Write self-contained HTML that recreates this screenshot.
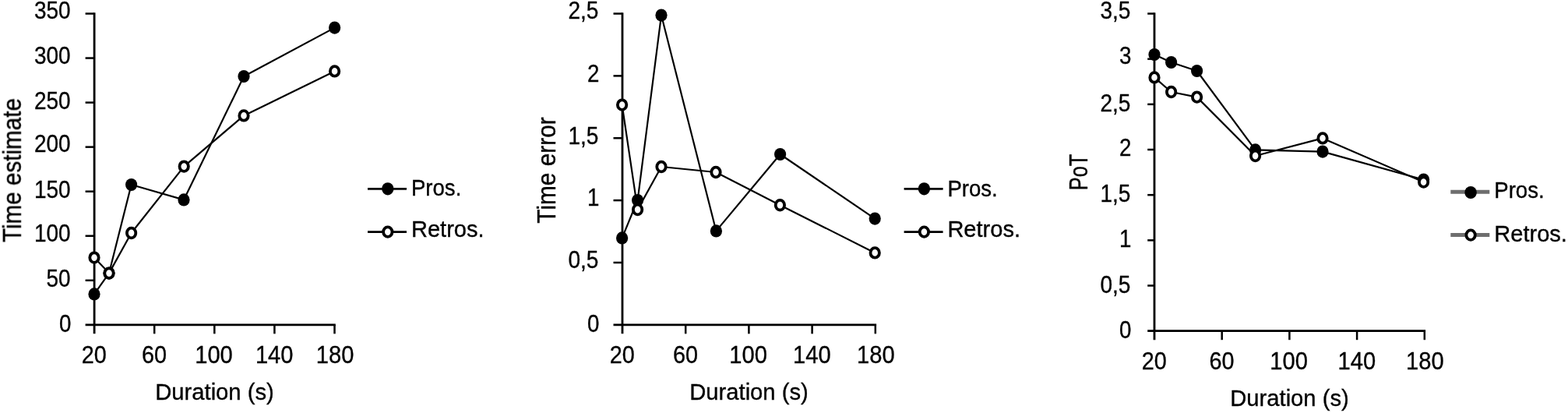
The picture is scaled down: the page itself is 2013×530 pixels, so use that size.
<!DOCTYPE html>
<html lang="en">
<head>
<meta charset="utf-8">
<title>Time estimate, time error and PoT by duration</title>
<style>
html,body{margin:0;padding:0;background:#fff;}
body{width:2013px;height:530px;overflow:hidden;}
svg{display:block;}
text{font-family:"Liberation Sans", sans-serif;font-size:29.2px;fill:#000;stroke:#000;stroke-width:0.35px;}
text.n{font-size:30.6px;}
</style>
</head>
<body>
<svg width="2013" height="530" viewBox="0 0 2013 530">
<defs><filter id="soft" x="0" y="0" width="2013" height="530" filterUnits="userSpaceOnUse"><feGaussianBlur stdDeviation="0.55"/></filter></defs>
<rect width="2013" height="530" fill="#fff"/>
<g filter="url(#soft)">
<g id="chart1">
<g stroke="#000" stroke-width="2.8" fill="none" stroke-linecap="butt">
<line x1="121.1" y1="16.20" x2="121.1" y2="428.35"/>
<line x1="109.60" y1="416.85" x2="430.80" y2="416.85"/>
</g>
<g stroke="#000" stroke-width="2.5" fill="none">
<line x1="109.60" y1="17.50" x2="121.1" y2="17.50"/>
<line x1="109.60" y1="74.55" x2="121.1" y2="74.55"/>
<line x1="109.60" y1="131.60" x2="121.1" y2="131.60"/>
<line x1="109.60" y1="188.65" x2="121.1" y2="188.65"/>
<line x1="109.60" y1="245.70" x2="121.1" y2="245.70"/>
<line x1="109.60" y1="302.75" x2="121.1" y2="302.75"/>
<line x1="109.60" y1="359.80" x2="121.1" y2="359.80"/>
<line x1="198.20" y1="416.85" x2="198.20" y2="428.35"/>
<line x1="275.30" y1="416.85" x2="275.30" y2="428.35"/>
<line x1="352.40" y1="416.85" x2="352.40" y2="428.35"/>
<line x1="429.50" y1="416.85" x2="429.50" y2="428.35"/>
</g>
<text class="n" x="90.6" y="23.70" text-anchor="end" textLength="46.6" lengthAdjust="spacingAndGlyphs">350</text>
<text class="n" x="90.6" y="82.00" text-anchor="end" textLength="46.6" lengthAdjust="spacingAndGlyphs">300</text>
<text class="n" x="90.6" y="140.00" text-anchor="end" textLength="46.6" lengthAdjust="spacingAndGlyphs">250</text>
<text class="n" x="90.6" y="195.00" text-anchor="end" textLength="46.6" lengthAdjust="spacingAndGlyphs">200</text>
<text class="n" x="90.6" y="254.00" text-anchor="end" textLength="46.6" lengthAdjust="spacingAndGlyphs">150</text>
<text class="n" x="90.6" y="310.00" text-anchor="end" textLength="46.6" lengthAdjust="spacingAndGlyphs">100</text>
<text class="n" x="90.6" y="368.00" text-anchor="end" textLength="31" lengthAdjust="spacingAndGlyphs">50</text>
<text class="n" x="91.5" y="426.00" text-anchor="end" textLength="15.4" lengthAdjust="spacingAndGlyphs">0</text>
<text class="n" x="120.80" y="466" text-anchor="middle" textLength="32" lengthAdjust="spacingAndGlyphs">20</text>
<text class="n" x="197.90" y="466" text-anchor="middle" textLength="32" lengthAdjust="spacingAndGlyphs">60</text>
<text class="n" x="274.50" y="466" text-anchor="middle" textLength="48.6" lengthAdjust="spacingAndGlyphs">100</text>
<text class="n" x="352.20" y="466" text-anchor="middle" textLength="48.6" lengthAdjust="spacingAndGlyphs">140</text>
<text class="n" x="430.10" y="466" text-anchor="middle" textLength="48.6" lengthAdjust="spacingAndGlyphs">180</text>
<text x="275.5" y="513" text-anchor="middle" textLength="152.5" lengthAdjust="spacingAndGlyphs">Duration (s)</text>
<text transform="translate(26.5 218.5) rotate(-90) scale(1 1.13)" text-anchor="middle" textLength="185" lengthAdjust="spacingAndGlyphs" stroke-width="0.6">Time estimate</text>
<polyline points="121.0,377.4 140.0,350.6 168.6,237.0 236.0,256.4 313.0,98.0 429.6,35.6" fill="none" stroke="#000" stroke-width="2.2" stroke-linejoin="round"/>
<ellipse cx="121.0" cy="377.4" rx="7.6" ry="8.1" fill="#000"/>
<ellipse cx="140.0" cy="350.6" rx="7.6" ry="8.1" fill="#000"/>
<ellipse cx="168.6" cy="237.0" rx="7.6" ry="8.1" fill="#000"/>
<ellipse cx="236.0" cy="256.4" rx="7.6" ry="8.1" fill="#000"/>
<ellipse cx="313.0" cy="98.0" rx="7.6" ry="8.1" fill="#000"/>
<ellipse cx="429.6" cy="35.6" rx="7.6" ry="8.1" fill="#000"/>
<polyline points="121.0,330.6 140.0,350.6 168.6,299.0 236.2,213.6 313.0,148.4 429.6,91.4" fill="none" stroke="#000" stroke-width="2.2" stroke-linejoin="round"/>
<ellipse cx="121.0" cy="330.6" rx="5.7" ry="6.3" fill="#fff" stroke="#000" stroke-width="3.8"/>
<ellipse cx="140.0" cy="350.6" rx="5.7" ry="6.3" fill="#fff" stroke="#000" stroke-width="3.8"/>
<ellipse cx="168.6" cy="299.0" rx="5.7" ry="6.3" fill="#fff" stroke="#000" stroke-width="3.8"/>
<ellipse cx="236.2" cy="213.6" rx="5.7" ry="6.3" fill="#fff" stroke="#000" stroke-width="3.8"/>
<ellipse cx="313.0" cy="148.4" rx="5.7" ry="6.3" fill="#fff" stroke="#000" stroke-width="3.8"/>
<ellipse cx="429.6" cy="91.4" rx="5.7" ry="6.3" fill="#fff" stroke="#000" stroke-width="3.8"/>
<line x1="472" y1="242.3" x2="522.0" y2="242.3" stroke="#000" stroke-width="2.7"/>
<ellipse cx="497.8" cy="242.3" rx="7.7" ry="8.1" fill="#000"/>
<text x="528" y="251.4" text-anchor="start" textLength="64.3" lengthAdjust="spacingAndGlyphs">Pros.</text>
<line x1="472" y1="297.6" x2="522.0" y2="297.6" stroke="#000" stroke-width="2.7"/>
<ellipse cx="497.8" cy="297.6" rx="5.7" ry="6.2" fill="#fff" stroke="#000" stroke-width="3.8"/>
<text x="528" y="304.3" text-anchor="start" textLength="93.6" lengthAdjust="spacingAndGlyphs">Retros.</text>
</g>
<g id="chart2">
<g stroke="#000" stroke-width="2.8" fill="none" stroke-linecap="butt">
<line x1="799" y1="16.20" x2="799" y2="428.35"/>
<line x1="787.50" y1="416.85" x2="1125.10" y2="416.85"/>
</g>
<g stroke="#000" stroke-width="2.5" fill="none">
<line x1="787.50" y1="17.50" x2="799" y2="17.50"/>
<line x1="787.50" y1="97.37" x2="799" y2="97.37"/>
<line x1="787.50" y1="177.24" x2="799" y2="177.24"/>
<line x1="787.50" y1="257.11" x2="799" y2="257.11"/>
<line x1="787.50" y1="336.98" x2="799" y2="336.98"/>
<line x1="880.20" y1="416.85" x2="880.20" y2="428.35"/>
<line x1="961.40" y1="416.85" x2="961.40" y2="428.35"/>
<line x1="1042.60" y1="416.85" x2="1042.60" y2="428.35"/>
<line x1="1123.80" y1="416.85" x2="1123.80" y2="428.35"/>
</g>
<text class="n" x="768.4" y="23.60" text-anchor="end" textLength="39" lengthAdjust="spacingAndGlyphs">2,5</text>
<text class="n" x="769.3" y="104.50" text-anchor="end" textLength="15.4" lengthAdjust="spacingAndGlyphs">2</text>
<text class="n" x="768.4" y="185.00" text-anchor="end" textLength="39" lengthAdjust="spacingAndGlyphs">1,5</text>
<text class="n" x="769.3" y="264.40" text-anchor="end" textLength="15.4" lengthAdjust="spacingAndGlyphs">1</text>
<text class="n" x="768.4" y="344.00" text-anchor="end" textLength="39" lengthAdjust="spacingAndGlyphs">0,5</text>
<text class="n" x="769.3" y="426.00" text-anchor="end" textLength="15.4" lengthAdjust="spacingAndGlyphs">0</text>
<text class="n" x="798.70" y="466" text-anchor="middle" textLength="32" lengthAdjust="spacingAndGlyphs">20</text>
<text class="n" x="879.90" y="466" text-anchor="middle" textLength="32" lengthAdjust="spacingAndGlyphs">60</text>
<text class="n" x="960.60" y="466" text-anchor="middle" textLength="48.6" lengthAdjust="spacingAndGlyphs">100</text>
<text class="n" x="1042.40" y="466" text-anchor="middle" textLength="48.6" lengthAdjust="spacingAndGlyphs">140</text>
<text class="n" x="1124.40" y="466" text-anchor="middle" textLength="48.6" lengthAdjust="spacingAndGlyphs">180</text>
<text x="961.5" y="513" text-anchor="middle" textLength="152.5" lengthAdjust="spacingAndGlyphs">Duration (s)</text>
<text transform="translate(712.6 218.5) rotate(-90) scale(1 1.13)" text-anchor="middle" textLength="136.5" lengthAdjust="spacingAndGlyphs" stroke-width="0.6">Time error</text>
<polyline points="798.6,305.4 818.6,257.0 849.0,19.6 919.4,296.4 1001.6,198.0 1123.2,280.6" fill="none" stroke="#000" stroke-width="2.2" stroke-linejoin="round"/>
<ellipse cx="798.6" cy="305.4" rx="7.6" ry="8.1" fill="#000"/>
<ellipse cx="818.6" cy="257.0" rx="7.6" ry="8.1" fill="#000"/>
<ellipse cx="849.0" cy="19.6" rx="7.6" ry="8.1" fill="#000"/>
<ellipse cx="919.4" cy="296.4" rx="7.6" ry="8.1" fill="#000"/>
<ellipse cx="1001.6" cy="198.0" rx="7.6" ry="8.1" fill="#000"/>
<ellipse cx="1123.2" cy="280.6" rx="7.6" ry="8.1" fill="#000"/>
<polyline points="798.6,134.6 818.6,269.0 849.0,214.0 919.0,221.0 1001.4,263.2 1123.2,324.4" fill="none" stroke="#000" stroke-width="2.2" stroke-linejoin="round"/>
<ellipse cx="798.6" cy="134.6" rx="5.7" ry="6.3" fill="#fff" stroke="#000" stroke-width="3.8"/>
<ellipse cx="818.6" cy="269.0" rx="5.7" ry="6.3" fill="#fff" stroke="#000" stroke-width="3.8"/>
<ellipse cx="849.0" cy="214.0" rx="5.7" ry="6.3" fill="#fff" stroke="#000" stroke-width="3.8"/>
<ellipse cx="919.0" cy="221.0" rx="5.7" ry="6.3" fill="#fff" stroke="#000" stroke-width="3.8"/>
<ellipse cx="1001.4" cy="263.2" rx="5.7" ry="6.3" fill="#fff" stroke="#000" stroke-width="3.8"/>
<ellipse cx="1123.2" cy="324.4" rx="5.7" ry="6.3" fill="#fff" stroke="#000" stroke-width="3.8"/>
<line x1="1160.6" y1="242.3" x2="1210.6" y2="242.3" stroke="#000" stroke-width="2.7"/>
<ellipse cx="1186.4" cy="242.3" rx="7.7" ry="8.1" fill="#000"/>
<text x="1216.4" y="251.6" text-anchor="start" textLength="64.3" lengthAdjust="spacingAndGlyphs">Pros.</text>
<line x1="1160.6" y1="297.6" x2="1210.6" y2="297.6" stroke="#000" stroke-width="2.7"/>
<ellipse cx="1186.4" cy="297.6" rx="5.7" ry="6.2" fill="#fff" stroke="#000" stroke-width="3.8"/>
<text x="1216.4" y="304.3" text-anchor="start" textLength="93.6" lengthAdjust="spacingAndGlyphs">Retros.</text>
</g>
<g id="chart3">
<g stroke="#000" stroke-width="2.8" fill="none" stroke-linecap="butt">
<line x1="1482" y1="16.20" x2="1482" y2="436.20"/>
<line x1="1473.20" y1="424.7" x2="1830.10" y2="424.7"/>
</g>
<g stroke="#000" stroke-width="2.5" fill="none">
<line x1="1473.20" y1="17.50" x2="1482" y2="17.50"/>
<line x1="1473.20" y1="75.67" x2="1482" y2="75.67"/>
<line x1="1473.20" y1="133.84" x2="1482" y2="133.84"/>
<line x1="1473.20" y1="192.01" x2="1482" y2="192.01"/>
<line x1="1473.20" y1="250.19" x2="1482" y2="250.19"/>
<line x1="1473.20" y1="308.36" x2="1482" y2="308.36"/>
<line x1="1473.20" y1="366.53" x2="1482" y2="366.53"/>
<line x1="1568.70" y1="424.7" x2="1568.70" y2="436.20"/>
<line x1="1655.40" y1="424.7" x2="1655.40" y2="436.20"/>
<line x1="1742.10" y1="424.7" x2="1742.10" y2="436.20"/>
<line x1="1828.80" y1="424.7" x2="1828.80" y2="436.20"/>
</g>
<text class="n" x="1451.4" y="23.60" text-anchor="end" textLength="39" lengthAdjust="spacingAndGlyphs">3,5</text>
<text class="n" x="1452.3" y="81.80" text-anchor="end" textLength="15.4" lengthAdjust="spacingAndGlyphs">3</text>
<text class="n" x="1451.4" y="143.00" text-anchor="end" textLength="39" lengthAdjust="spacingAndGlyphs">2,5</text>
<text class="n" x="1452.3" y="200.00" text-anchor="end" textLength="15.4" lengthAdjust="spacingAndGlyphs">2</text>
<text class="n" x="1451.4" y="259.00" text-anchor="end" textLength="39" lengthAdjust="spacingAndGlyphs">1,5</text>
<text class="n" x="1452.3" y="317.00" text-anchor="end" textLength="15.4" lengthAdjust="spacingAndGlyphs">1</text>
<text class="n" x="1451.4" y="375.60" text-anchor="end" textLength="39" lengthAdjust="spacingAndGlyphs">0,5</text>
<text class="n" x="1452.3" y="434.30" text-anchor="end" textLength="15.4" lengthAdjust="spacingAndGlyphs">0</text>
<text class="n" x="1481.70" y="474" text-anchor="middle" textLength="32" lengthAdjust="spacingAndGlyphs">20</text>
<text class="n" x="1568.40" y="474" text-anchor="middle" textLength="32" lengthAdjust="spacingAndGlyphs">60</text>
<text class="n" x="1654.60" y="474" text-anchor="middle" textLength="48.6" lengthAdjust="spacingAndGlyphs">100</text>
<text class="n" x="1741.90" y="474" text-anchor="middle" textLength="48.6" lengthAdjust="spacingAndGlyphs">140</text>
<text class="n" x="1829.40" y="474" text-anchor="middle" textLength="48.6" lengthAdjust="spacingAndGlyphs">180</text>
<text x="1655.5" y="521" text-anchor="middle" textLength="152.5" lengthAdjust="spacingAndGlyphs">Duration (s)</text>
<text transform="translate(1396 221) rotate(-90) scale(1 1.13)" text-anchor="middle" textLength="46.5" lengthAdjust="spacingAndGlyphs" stroke-width="0.6">PoT</text>
<polyline points="1482.0,70.0 1503.6,80.0 1536.6,91.0 1611.6,192.4 1698.0,194.6 1827.6,230.6" fill="none" stroke="#000" stroke-width="2.2" stroke-linejoin="round"/>
<ellipse cx="1482.0" cy="70.0" rx="7.6" ry="8.1" fill="#000"/>
<ellipse cx="1503.6" cy="80.0" rx="7.6" ry="8.1" fill="#000"/>
<ellipse cx="1536.6" cy="91.0" rx="7.6" ry="8.1" fill="#000"/>
<ellipse cx="1611.6" cy="192.4" rx="7.6" ry="8.1" fill="#000"/>
<ellipse cx="1698.0" cy="194.6" rx="7.6" ry="8.1" fill="#000"/>
<ellipse cx="1827.6" cy="230.6" rx="7.6" ry="8.1" fill="#000"/>
<polyline points="1482.0,99.4 1503.6,118.0 1536.6,124.6 1611.6,200.0 1698.0,177.4 1827.6,233.6" fill="none" stroke="#000" stroke-width="2.2" stroke-linejoin="round"/>
<ellipse cx="1482.0" cy="99.4" rx="5.7" ry="6.3" fill="#fff" stroke="#000" stroke-width="3.8"/>
<ellipse cx="1503.6" cy="118.0" rx="5.7" ry="6.3" fill="#fff" stroke="#000" stroke-width="3.8"/>
<ellipse cx="1536.6" cy="124.6" rx="5.7" ry="6.3" fill="#fff" stroke="#000" stroke-width="3.8"/>
<ellipse cx="1611.6" cy="200.0" rx="5.7" ry="6.3" fill="#fff" stroke="#000" stroke-width="3.8"/>
<ellipse cx="1698.0" cy="177.4" rx="5.7" ry="6.3" fill="#fff" stroke="#000" stroke-width="3.8"/>
<ellipse cx="1827.6" cy="233.6" rx="5.7" ry="6.3" fill="#fff" stroke="#000" stroke-width="3.8"/>
<line x1="1862.3" y1="246.2" x2="1912.3" y2="246.2" stroke="#6e6e6e" stroke-width="5"/>
<ellipse cx="1888.1" cy="247.0" rx="7.7" ry="8.1" fill="#000"/>
<text x="1918.3" y="253.9" text-anchor="start" textLength="64.3" lengthAdjust="spacingAndGlyphs">Pros.</text>
<line x1="1862.3" y1="301.6" x2="1912.3" y2="301.6" stroke="#6e6e6e" stroke-width="5"/>
<ellipse cx="1888.1" cy="301.6" rx="5.7" ry="6.2" fill="#fff" stroke="#000" stroke-width="3.8"/>
<text x="1918.3" y="310" text-anchor="start" textLength="93.6" lengthAdjust="spacingAndGlyphs">Retros.</text>
</g>
</g>
</svg>
</body>
</html>
